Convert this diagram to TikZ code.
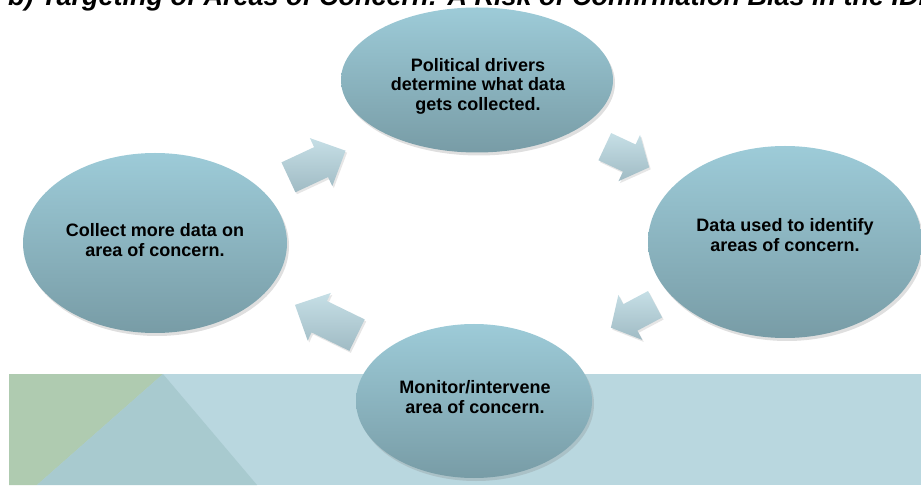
\documentclass[tikz,border=0pt]{standalone}
\usepackage{fontspec}
\setmainfont{Liberation Sans}
\usetikzlibrary{shapes.geometric,shadows}
\definecolor{elltop}{HTML}{9DCBD8}
\definecolor{ellbot}{HTML}{789CA6}
\definecolor{arrtop}{HTML}{C6DFE6}
\definecolor{arrbot}{HTML}{A0BBC4}
\definecolor{band}{HTML}{B9D7DF}
\definecolor{bandmid}{HTML}{A8CACF}
\definecolor{bandgreen}{HTML}{AFCBB0}
% block arrow: #1 centre, #2 angle, #3 length, #4 head length, #5 head width, #6 body width
\newcommand{\blockarr}[6]{%
  \path[blockarrow, shift={#1}, rotate=#2]
    ({-#3/2},{-#6/2}) -- ({#3/2-#4},{-#6/2}) -- ({#3/2-#4},{-#5/2}) -- ({#3/2},0)
    -- ({#3/2-#4},{#5/2}) -- ({#3/2-#4},{#6/2}) -- ({-#3/2},{#6/2}) -- cycle;}
\begin{document}
\begin{tikzpicture}[x=1pt,y=1pt,
  bubble/.style={ellipse, inner sep=0pt, draw=none, top color=elltop, bottom color=ellbot,
    drop shadow={shadow xshift=2pt, shadow yshift=-3pt, opacity=.25}},
  bubbletext/.style={align=center, inner sep=0pt, font=\bfseries\fontsize{18}{19.5}\selectfont},
  blockarrow/.style={top color=arrtop, bottom color=arrbot,
    drop shadow={shadow xshift=1.5pt, shadow yshift=-2pt, opacity=.2}},
  titletext/.style={anchor=base west, inner sep=0pt, font=\bfseries\itshape\fontsize{27}{27}\selectfont}]
\useasboundingbox (0,0) rectangle (921,485);
\clip (0,0) rectangle (921,485);
% title (cut at the top edge)
\node[titletext] (title) at (8,479) {b) Targeting of Areas of Concern: A Risk of Confirmation Bias in the IDI};
% background band
\fill[band] (9,0) rectangle (921,111);
\fill[bandgreen] (9,111) -- (163,111) -- (37,0) -- (9,0) -- cycle;
\fill[bandmid] (163,111) -- (257,0) -- (37,0) -- cycle;
% block arrows
\blockarr{(317,321)}{25}{63}{27}{53}{33}
\blockarr{(627,328)}{-25}{49}{22}{51}{30}
\blockarr{(633,169)}{208}{50}{22}{51}{30}
\blockarr{(326,165)}{154}{69}{27}{53}{35}
% ellipses
\node[bubble, minimum width=272pt, minimum height=145pt] (pol) at (477,405) {};
\node[bubble, minimum width=274pt, minimum height=192pt] (dat) at (785,243) {};
\node[bubble, minimum width=236pt, minimum height=154pt] (mon) at (474,84) {};
\node[bubble, minimum width=264pt, minimum height=180pt] (col) at (155,242) {};
% texts
\node[bubbletext] (poltxt) at (478,399) {Political drivers\\determine what data\\gets collected.};
\node[bubbletext] (dattxt) at (785,250) {Data used to identify\\areas of concern.};
\node[bubbletext] (montxt) at (475,88) {Monitor/intervene\\area of concern.};
\node[bubbletext] (coltxt) at (155,245) {Collect more data on\\area of concern.};
\end{tikzpicture}
\end{document}
